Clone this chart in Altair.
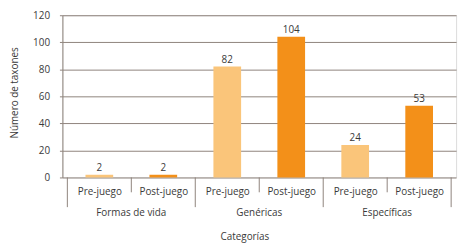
import altair as alt
import pandas as pd

groups = ["Formas de vida", "Genéricas", "Específicas"]
phases = ["Pre-juego", "Post-juego"]
values = [2, 2, 82, 104, 24, 53]
y_ticks = [0, 20, 40, 60, 80, 100, 120]

rows = []
i = 0
for g in groups:
    for p in phases:
        rows.append({"pos": i, "group": g, "phase": p, "value": values[i]})
        i += 1
df = pd.DataFrame(rows)

bounds = pd.DataFrame({"b": [k - 0.5 for k in range(len(values) + 1)]})
long_b = bounds[bounds.index % 2 == 0]
short_b = bounds[bounds.index % 2 == 1]
glabels = pd.DataFrame({"pos": [2 * k + 0.5 for k in range(len(groups))], "group": groups})

W, H = 398, 164
FONT = "Open Sans"
FS = 10
TXT = "#3a3a3a"
GRID = "#8f847c"

xscale = alt.Scale(domain=[-0.5, len(values) - 0.5], nice=False, zero=False)
yscale = alt.Scale(domain=[0, 120], nice=False)

xaxis = alt.Axis(values=list(range(len(values))),
                 labelExpr="['Pre-juego','Post-juego'][datum.value % 2]",
                 grid=False, ticks=False, domain=False,
                 labelPadding=9, labelBaseline="top", labelOverlap=False,
                 labelFont=FONT, labelFontSize=FS, labelColor=TXT,
                 title="Categorías", titleFont=FONT, titleFontSize=FS,
                 titleFontWeight="normal", titleColor=TXT,
                 titleX=184, titleY=60, titleBaseline="middle")
yaxis = alt.Axis(values=y_ticks, grid=True, gridColor=GRID, gridWidth=1,
                 domainColor=GRID, tickColor=GRID, tickSize=3,
                 labelPadding=10, labelOverlap=False, labelFont=FONT,
                 labelFontSize=FS, labelColor=TXT, title="Número de taxones",
                 titleFont=FONT, titleFontSize=FS, titleFontWeight="normal",
                 titleColor=TXT, titleX=-48, titleY=78,
                 titleBaseline="middle")

X = lambda f: alt.X(f, scale=xscale, axis=xaxis)

bars = alt.Chart(df).mark_bar(size=28).encode(
    x=X("pos:Q"),
    y=alt.Y("value:Q", scale=yscale, axis=yaxis),
    color=alt.Color("phase:N", scale=alt.Scale(domain=phases, range=["#FAC57A", "#F39019"]),
                    legend=None),
)

labels = alt.Chart(df).mark_text(dy=-7, font=FONT, fontSize=FS, color=TXT).encode(
    x=X("pos:Q"),
    y=alt.Y("value:Q", scale=yscale, axis=yaxis),
    text="value:Q",
)

long_rules = alt.Chart(long_b).mark_rule(color=GRID, strokeWidth=1).encode(
    x=X("b:Q"), y=alt.value(H), y2=alt.value(H + 30)
)
short_rules = alt.Chart(short_b).mark_rule(color=GRID, strokeWidth=1).encode(
    x=X("b:Q"), y=alt.value(H), y2=alt.value(H + 15)
)
group_text = alt.Chart(glabels).mark_text(font=FONT, fontSize=FS, color=TXT, baseline="middle").encode(
    x=X("pos:Q"), y=alt.value(H + 36), text="group:N"
)

chart = alt.layer(bars, labels, long_rules, short_rules, group_text).properties(
    width=W, height=H,
    autosize=alt.AutoSizeParams(type="none"),
    padding={"left": 55, "top": 6, "right": 8, "bottom": 70},
).configure_view(stroke=None).configure(background="white")

chart.save("out.html", embed_options={"renderer": "svg", "actions": False})
